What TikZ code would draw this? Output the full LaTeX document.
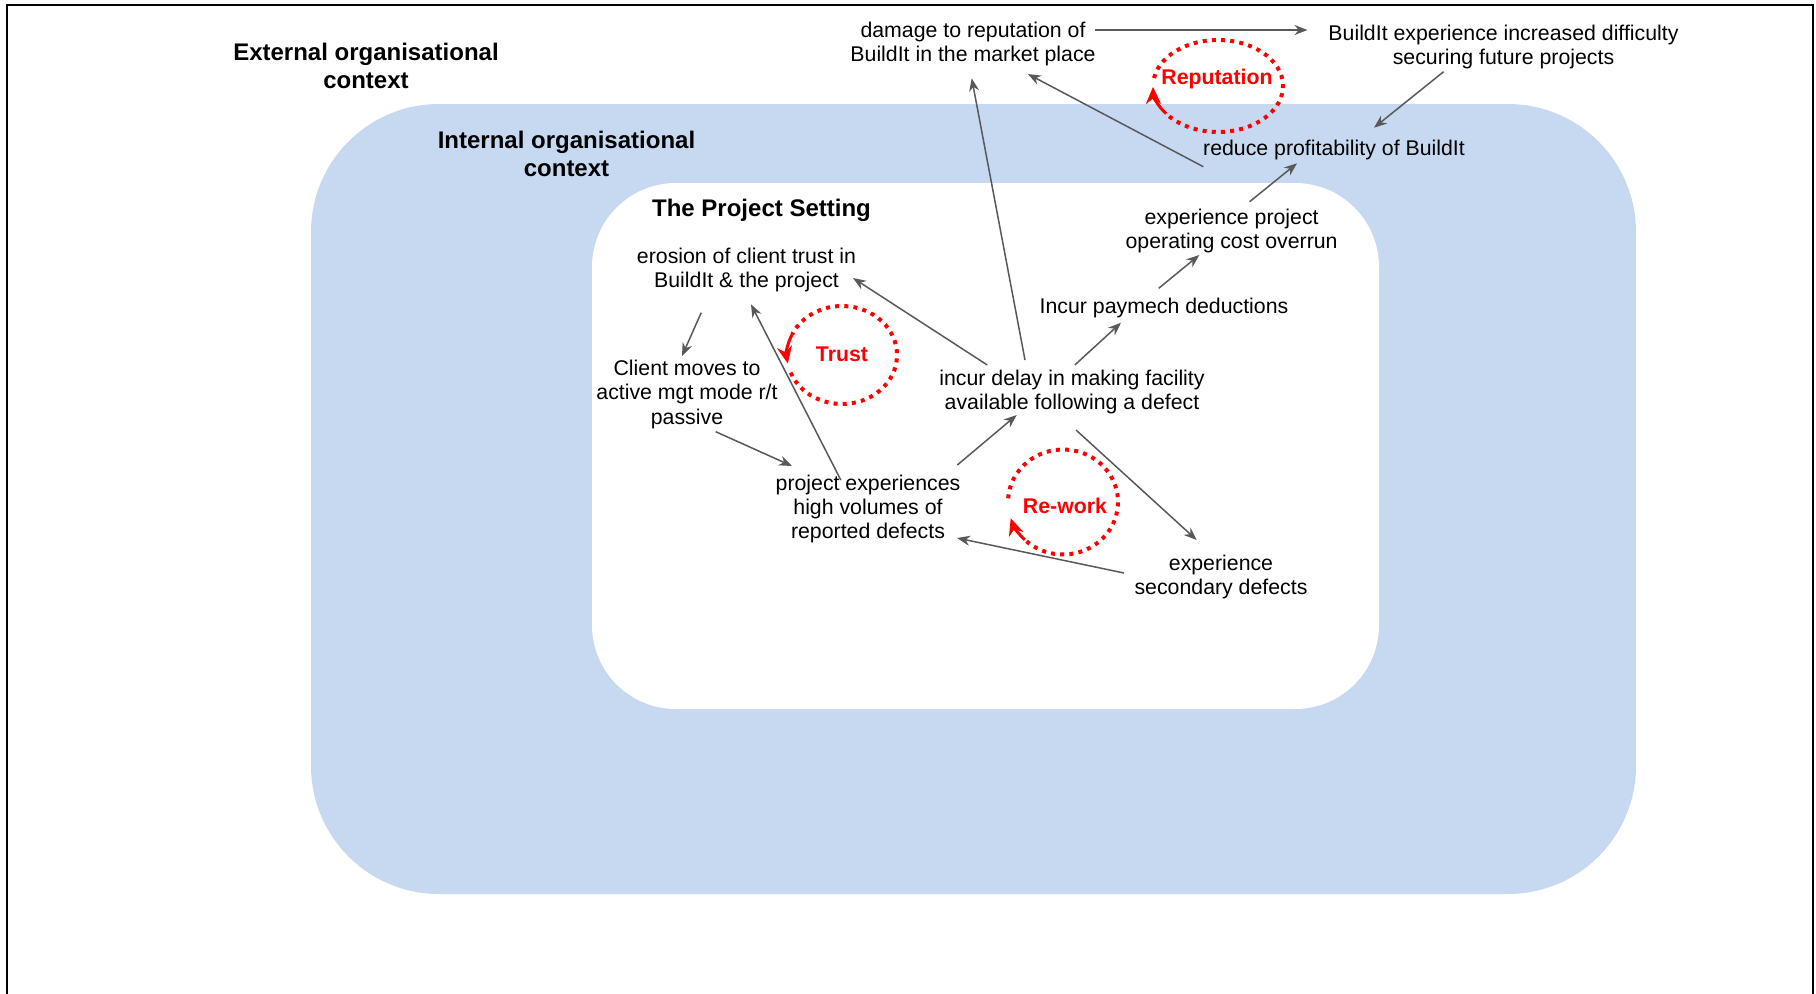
\documentclass[tikz,border=0pt]{standalone}
\usepackage{fontspec}
\setmainfont{Liberation Sans}
\usetikzlibrary{arrows.meta}
\definecolor{ctxblue}{RGB}{198,217,240}
\definecolor{linkgray}{RGB}{89,89,89}
\definecolor{loopred}{RGB}{255,0,0}
\begin{document}
\begin{tikzpicture}[x=0.5pt,y=-0.5pt,
  every node/.style={inner sep=0pt, outer sep=0pt},
  txt/.style={align=center, font=\fontsize{10.65}{12.15}\selectfont},
  heading/.style={align=center, font=\fontsize{12}{13.85}\selectfont\bfseries},
  looplbl/.style={font=\fontsize{10.65}{12.15}\selectfont\bfseries, text=loopred},
  link/.style={draw=linkgray, line width=0.75pt, -{Stealth[length=6.5pt,width=5pt]}},
  loopline/.style={draw=loopred, line width=2pt, dash pattern=on 2pt off 2.6pt},
  loophead/.style={draw=loopred, line width=1.5pt, -{Stealth[length=8.5pt,width=7.5pt]}}
]
\useasboundingbox (0,0) rectangle (1816,993);

% page frame (open at the bottom edge)
\begin{scope}
  \clip (0,0) rectangle (1816,993);
  \draw[line width=1pt] (7,5) rectangle (1813,1020);
\end{scope}

% nested contexts
\fill[ctxblue, rounded corners=64pt] (311,104) rectangle (1636,894);
\fill[white, rounded corners=42pt] (592,183) rectangle (1379,709);

% context headings
\node[heading] (ext)  at (366,66)    {External organisational\\context};
\node[heading] (int)  at (566.5,154) {Internal organisational\\context};
\node[heading] (proj) at (761.5,210.3) {The Project Setting};

% causal factors
\node[txt] (damage)    at (973,44.3)     {damage to reputation of\\BuildIt in the market place};
\node[txt] (diff)      at (1503.5,47.1)  {BuildIt experience increased difficulty\\securing future projects};
\node[txt] (profit)    at (1334,149.6)   {reduce profitability of BuildIt};
\node[txt] (opcost)    at (1231.6,231.3) {experience project\\operating cost overrun};
\node[txt] (paymech)   at (1164,308.3)   {Incur paymech deductions};
\node[txt] (delay)     at (1072,392.3)   {incur delay in making facility\\available following a defect};
\node[txt] (erosion)   at (746.5,269.8)  {erosion of client trust in\\BuildIt \& the project};
\node[txt] (client)    at (687,394.3)    {Client moves to\\active mgt mode r/t\\passive};
\node[txt] (pexp)      at (868,508.8)    {project experiences\\high volumes of\\reported defects};
\node[txt] (secondary) at (1221,576.8)   {experience\\secondary defects};

% causal links
\draw[link] ([shift={(122,-14.3)}]damage.center) -- ([shift={(-196,-17.1)}]diff.center);
\draw[link] ([shift={(-59.9,24.6)}]diff.center) -- ([shift={(40,-21.9)}]profit.center);
\draw[link] ([shift={(-130.7,17.1)}]profit.center) -- ([shift={(54.9,29.7)}]damage.center);
\draw[link] ([shift={(-47,-32.3)}]delay.center) -- ([shift={(-1.3,34)}]damage.center);
\draw[link] ([shift={(2.8,-27.3)}]delay.center) -- ([shift={(-43,14.4)}]paymech.center);
\draw[link] ([shift={(-5.3,-20)}]paymech.center) -- ([shift={(-32.3,23.7)}]opcost.center);
\draw[link] ([shift={(18,-29.6)}]opcost.center) -- ([shift={(-37,13.7)}]profit.center);
\draw[link] ([shift={(-84.7,-27.3)}]delay.center) -- ([shift={(106.5,8.2)}]erosion.center);
\draw[link] ([shift={(-45.3,42.9)}]erosion.center) -- ([shift={(-5,-38.3)}]client.center);
\draw[link] ([shift={(28.7,37.4)}]client.center) -- ([shift={(-76,-42.8)}]pexp.center);
\draw[link] ([shift={(-27.2,-28.8)}]pexp.center) -- ([shift={(4.5,34.5)}]erosion.center);
\draw[link] ([shift={(89.3,-43.8)}]pexp.center) -- ([shift={(-55.3,22.7)}]delay.center);
\draw[link] ([shift={(4,37.7)}]delay.center) -- ([shift={(-24.3,-36.8)}]secondary.center);
\draw[link] ([shift={(-97,-3.8)}]secondary.center) -- ([shift={(89,29.2)}]pexp.center);

% feedback loops
\node[looplbl] (trust)  at (842,354)    {Trust};
\node[looplbl] (rework) at (1065,505.7) {Re-work};
\node[looplbl] (repute) at (1217,79)    {Reputation};

% Trust: dotted ring, then a solid end with the arrow tip
\draw[loopline] ([shift={(159:55 and 49)}]842,355)
  arc[start angle=159, end angle=-155, x radius=55, y radius=49];
\draw[loophead] ([shift={(-155:55 and 49)}]842,355)
  arc[start angle=-155, end angle=-190, x radius=55, y radius=49];
% Re-work
\draw[loopline] ([shift={(184:55 and 52.5)}]1063,502)
  arc[start angle=184, end angle=494, x radius=55, y radius=52.5];
\draw[loophead] ([shift={(494:55 and 52.5)}]1063,502)
  arc[start angle=494, end angle=522, x radius=55, y radius=52.5];
% Reputation
\draw[loopline] ([shift={(190:65 and 46)}]1218,86)
  arc[start angle=190, end angle=503, x radius=65, y radius=46];
\draw[loophead] ([shift={(503:65 and 46)}]1218,86)
  arc[start angle=503, end angle=539, x radius=65, y radius=46];
\end{tikzpicture}
\end{document}
